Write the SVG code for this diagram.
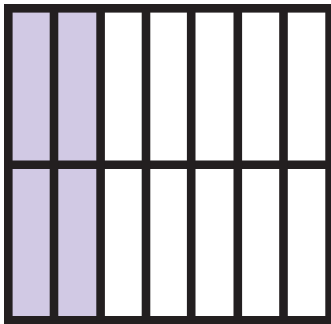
<svg xmlns="http://www.w3.org/2000/svg" width="331" height="324" viewBox="0 0 331 324">
<style>
.ln{stroke:#231f20;stroke-width:8.6;fill:none}
</style>
<rect x="0" y="0" width="331" height="324" fill="#ffffff"/>
<g id="shaded">
<rect x="8.3" y="8.3" width="92" height="312" fill="#d1c9e4"/>
</g>
<g id="grid">
<rect class="ln" x="8.3" y="8.3" width="321.3" height="312"/>
<line class="ln" x1="8.3" y1="164.7" x2="329.6" y2="164.7"/>
<line class="ln" x1="54" y1="8.3" x2="54" y2="320.3"/>
<line class="ln" x1="100.6" y1="8.3" x2="100.6" y2="320.3"/>
<line class="ln" x1="146" y1="8.3" x2="146" y2="320.3"/>
<line class="ln" x1="191.2" y1="8.3" x2="191.2" y2="320.3"/>
<line class="ln" x1="237.8" y1="8.3" x2="237.8" y2="320.3"/>
<line class="ln" x1="283.5" y1="8.3" x2="283.5" y2="320.3"/>
</g>
</svg>
